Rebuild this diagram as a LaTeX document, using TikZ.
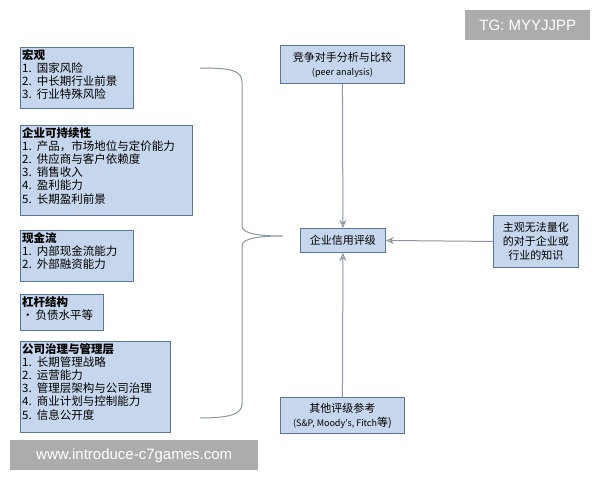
\documentclass[tikz,border=0pt]{standalone}
\usepackage{fontspec}
\newfontfamily\cjk{Noto Sans CJK SC}
\usetikzlibrary{arrows.meta}
\definecolor{bfill}{HTML}{C6D6EC}
\definecolor{bdraw}{HTML}{5A7698}
\definecolor{lin}{HTML}{8C96A4}
\begin{document}
\begin{tikzpicture}[x=1pt,y=-1pt,
  bx/.style={draw=bdraw,line width=0.9pt,fill=bfill,inner sep=0pt,anchor=north west},
  tx/.style={anchor=north west,align=left,inner sep=2pt,font=\cjk\fontsize{11.5}{13.2}\selectfont},
  ctx/.style={align=center,inner sep=0pt,font=\cjk\fontsize{11}{14}\selectfont},
  cn/.style={draw=lin,line width=1pt},
  ar/.style={cn,-{Stealth[length=8pt,width=7pt,open]}},
  wm/.style={fill=gray!65,text=white,inner sep=0pt,font=\fontspec{Liberation Sans}\fontsize{15}{15}\selectfont}]
\useasboundingbox (0,0) rectangle (600,480);
\fill[white] (0,0) rectangle (600,480);
% left boxes
\node[bx,minimum width=113,minimum height=61] (b1) at (20,47) {};
\node[tx] (t1) at (b1.north west) {\textbf{宏观}\\1.\ \ 国家风险\\2.\ \ 中长期行业前景\\3.\ \ 行业特殊风险};
\node[bx,minimum width=172,minimum height=90] (b2) at (20,125) {};
\node[tx] (t2) at (b2.north west) {\textbf{企业可持续性}\\1.\ \ 产品，市场地位与定价能力\\2.\ \ 供应商与客户依赖度\\3.\ \ 销售收入\\4.\ \ 盈利能力\\5.\ \ 长期盈利前景};
\node[bx,minimum width=113,minimum height=51] (b3) at (20,230) {};
\node[tx] (t3) at (b3.north west) {\textbf{现金流}\\1.\ \ 内部现金流能力\\2.\ \ 外部融资能力};
\node[bx,minimum width=83,minimum height=36] (b4) at (20,294) {};
\node[tx] (t4) at (b4.north west) {\textbf{杠杆结构}\\\textbullet\,负债水平等};
\node[bx,minimum width=150,minimum height=91] (b5) at (20,341) {};
\node[tx] (t5) at (b5.north west) {\textbf{公司治理与管理层}\\1.\ \ 长期管理战略\\2.\ \ 运营能力\\3.\ \ 管理层架构与公司治理\\4.\ \ 商业计划与控制能力\\5.\ \ 信息公开度};
% centre and right
\node[bx,minimum width=124,minimum height=38] (peer) at (280,45) {};
\node[ctx] (tpeer) at (peer.center) {竞争对手分析与比较\\{\fontsize{9}{11}\selectfont(peer analysis)}};
\node[bx,minimum width=85,minimum height=24] (rate) at (300,228) {};
\node[ctx] (trate) at (rate.center) {企业信用评级};
\node[bx,minimum width=85,minimum height=52] (subj) at (493,215) {};
\node[ctx] (tsubj) at (subj.center) {主观无法量化\\的对于企业或\\行业的知识};
\node[bx,minimum width=124,minimum height=36] (oth) at (280,397) {};
\node[ctx] (toth) at (oth.center) {其他评级参考\\{\fontsize{9}{11}\selectfont(S\&P, Moody's, Fitch}等)};
% brace
\coordinate (bt) at (200,68);
\coordinate (bb) at (200,418);
\coordinate (tip) at (283,236);
\draw[cn] (bt) .. controls (230,68) and (242,70) .. (242,82) -- (242,226)
  .. controls (242,234) and (260,236) .. (tip)
  .. controls (260,236) and (242,238) .. (242,246) -- (242,404)
  .. controls (242,414) and (230,418) .. (bb);
% arrows
\draw[ar] (peer.south) -- (rate.north);
\draw[ar] (oth.north) -- (rate.south);
\draw[ar] (subj.west) -- (rate.east);
% watermarks
\node[wm,anchor=north west,minimum width=125,minimum height=30] (tg) at (465,10) {TG: MYYJJPP};
\node[wm,anchor=north west,minimum width=248,minimum height=30] (www) at (10,440) {www.introduce-c7games.com};
\end{tikzpicture}
\end{document}
